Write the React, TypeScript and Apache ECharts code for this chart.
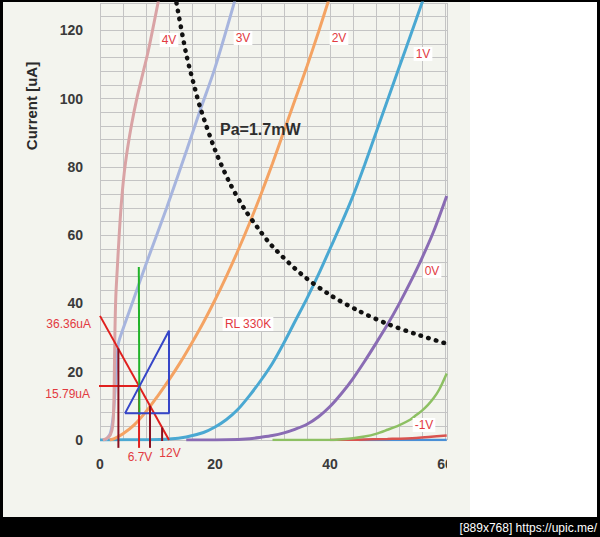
import { useEffect, useRef } from 'react';
import * as echarts from 'echarts';

// Tick labels
const xTickLabels = [0, 20, 40, 60];
const yTickLabels = [0, 20, 40, 60, 80, 100, 120];

// Plate curves [V, uA]
const curve4V = [[0.5, 0], [1.2, 0.5], [1.8, 1.5], [2.2, 4], [2.4, 10], [2.5, 20], [2.6, 32], [2.75, 42], [3.0, 50], [3.3, 59], [3.7, 69], [4.2, 78], [4.8, 85.5], [5.5, 92.5], [6.4, 100], [7.4, 107], [8.4, 114], [10.2, 129]];
const curve3V = [[1.0, 0], [1.8, 2], [2.3, 7], [2.6, 14], [2.9, 22], [3.2, 28.3], [4.0, 32.5], [5.8, 41], [8.0, 51.5], [11.6, 68], [15.1, 85], [17.4, 96.5], [20.0, 109], [23.5, 129]];
const curve2V = [[1.7, 0], [2.5, 0.4], [4.0, 1.8], [6.0, 4.5], [8.0, 8.3], [10.0, 12.8], [12.0, 17.6], [14.0, 22.8], [16.0, 28.5], [18.0, 34.5], [20.0, 41], [22.0, 48], [24.0, 55.5], [26.0, 63.5], [28.0, 72], [30.0, 81], [32.0, 90.5], [34.0, 100], [36.0, 109.5], [38.0, 119.5], [39.8, 129]];
const curve1V = [[0.0, 0], [8.0, 0.1], [12.0, 0.3], [15.0, 0.9], [18.0, 2.2], [20.0, 3.8], [22.0, 6], [24.0, 9], [26.0, 13], [28.0, 17.5], [30.0, 22.5], [32.0, 28.5], [34.0, 35], [36.0, 41.5], [38.0, 48.5], [40.0, 56], [42.0, 63.5], [44.0, 71.5], [46.0, 80.5], [48.0, 90], [50.0, 99.5], [52.0, 109], [54.0, 118.5], [56.2, 129]];
const curve0V = [[15.0, 0], [22.0, 0.1], [26.0, 0.4], [28.0, 0.8], [30.0, 1.3], [32.0, 2.1], [34.0, 3.2], [36.0, 4.6], [38.0, 6.8], [40.0, 9.8], [42.0, 13.6], [44.0, 18], [46.0, 23], [48.0, 28.3], [50.0, 33.8], [52.0, 39.8], [54.0, 46.3], [56.0, 53.3], [58.0, 61], [60.3, 71.5]];
const curveM1V = [[30.0, 0], [40.0, 0], [42.0, 0.2], [44.0, 0.5], [46.0, 1], [48.0, 1.8], [50.0, 3], [52.0, 4.3], [54.0, 6], [55.0, 7.3], [56.0, 8.6], [57.0, 10.2], [58.0, 12.2], [59.0, 14.8], [60.3, 19.5]];
const curveM2V = [[40.0, 0], [45.0, 0.1], [50.0, 0.3], [55.0, 0.6], [60.3, 1.3]];
const curveM3V = [[45.0, 0], [60.3, 0]];

// Anode dissipation limit Pa = 1.7 mW
const paLimit = [[13.3, 128], [15.0, 113], [16.5, 103], [17.5, 97], [20.0, 85], [22.5, 75.5], [25.0, 68], [27.5, 62], [30.0, 56.7], [35.0, 48.6], [40.0, 42.5], [45.0, 37.8], [50.0, 34], [55.0, 31], [60.3, 28.2]];

// Annotations
const loadLine = [[0, 36.36], [12, 0]];
const quiescentH = [[-0.7, 15.79], [6.79, 15.79]];
const quiescentV = [[6.79, 15.79], [6.79, -2.3]];
const greenLine = [[6.85, 7.3], [6.75, 50.7]];
const triangle = [[4.35, 7.8], [12.0, 7.8], [12.0, 32], [4.35, 7.8]];
const darkV1 = [[3.2, 26.8], [3.2, -2.3]];
const darkV2 = [[8.7, 10.0], [8.7, -2.3]];
const darkV3 = [[10.8, 3.64], [10.8, -0.3]];

const RED = '#e23a3f';
const BG = '#f3f4ee';
const FONT = '"Liberation Sans", Arial, sans-serif';

export default function App() {
  const ref = useRef<HTMLDivElement>(null);
  useEffect(() => {
    if (!ref.current) return;
    const chart = echarts.init(ref.current, null, { renderer: 'svg' });
    const curve = (name: string, data: number[][], color: string, width: number) => ({
      name, type: 'line', data, showSymbol: false, smooth: 0.3,
      lineStyle: { color, width }, silent: true, z: 3,
    });
    const ann = (name: string, data: number[][], color: string, width: number) => ({
      name, type: 'line', data, showSymbol: false, smooth: false, clip: false,
      lineStyle: { color, width }, silent: true, z: 6,
    });
    const label = (text: string, x: number, y: number, opts: any = {}) => ({
      type: 'text', x, y, z: 50,
      style: {
        text, fill: RED, font: `12px ${FONT}`, align: 'center', verticalAlign: 'middle',
        backgroundColor: '#ffffff', padding: [1, 2], ...opts,
      },
    });
    chart.setOption({
      animation: false,
      backgroundColor: 'transparent',
      grid: { left: 100, top: 3, width: 347, height: 437, containLabel: false },
      xAxis: {
        type: 'value', min: 0, max: 60.35, interval: 4,
        axisLine: { show: false }, axisTick: { show: false },
        splitLine: { show: true, lineStyle: { color: '#c4c4c4', width: 1 } },
        axisLabel: {
          formatter: (v: number) => (xTickLabels.includes(v) ? String(v) : ''),
          color: '#3a3a3a', fontWeight: 'bold', fontSize: 14, fontFamily: FONT, margin: 17,
        },
      },
      yAxis: {
        type: 'value', min: 0, max: 128, interval: 4,
        axisLine: { show: false }, axisTick: { show: false },
        splitLine: { show: true, lineStyle: { color: '#c4c4c4', width: 1 } },
        axisLabel: {
          formatter: (v: number) => (yTickLabels.includes(v) ? String(v) : ''),
          color: '#3a3a3a', fontWeight: 'bold', fontSize: 14, fontFamily: FONT, margin: 17,
        },
      },
      series: [
        curve('-3V', curveM3V, '#4a8fd6', 2.5),
        curve('-2V', curveM2V, '#d9534f', 2.5),
        curve('-1V', curveM1V, '#8dc063', 2.5),
        curve('0V', curve0V, '#8a6cb4', 3),
        curve('1V', curve1V, '#4aa8d2', 3),
        curve('2V', curve2V, '#f4a363', 3),
        curve('3V', curve3V, '#a7b5de', 3),
        curve('4V', curve4V, '#d9a3a5', 3),
        {
          name: 'Pa', type: 'line', data: paLimit, showSymbol: false, smooth: 0.3, silent: true, z: 5,
          lineStyle: { color: '#111', width: 4.5, type: [0.5, 7.5], cap: 'round' },
        },
        ann('load', loadLine, '#e0201e', 2),
        ann('qh', quiescentH, '#e0201e', 2),
        ann('qv', quiescentV, '#e0201e', 2),
        ann('green', greenLine, '#22b32a', 2),
        ann('tri', triangle, '#3646c8', 2),
        ann('d1', darkV1, '#8a1020', 2),
        ann('d2', darkV2, '#8a1020', 2),
        ann('d3', darkV3, '#8a1020', 2),
      ],
      graphic: [
        { type: 'rect', z: 40, shape: { x: 447, y: 445, width: 23, height: 40 }, style: { fill: BG } },
        {
          type: 'text', x: 31, y: 106, rotation: Math.PI / 2, z: 50,
          style: { text: 'Current [uA]', fill: '#2a2a2a', font: `bold 15px ${FONT}`, align: 'center', verticalAlign: 'middle' },
        },
        {
          type: 'text', x: 220, y: 129, z: 50,
          style: { text: 'Pa=1.7mW', fill: '#2e2e2e', font: `bold 16px ${FONT}`, align: 'left', verticalAlign: 'middle' },
        },
        label('4V', 169, 40),
        label('3V', 243, 38),
        label('2V', 339, 38),
        label('1V', 423, 54),
        label('0V', 432, 271),
        label('-1V', 424, 425),
        label('RL 330K', 248, 324),
        label('36.36uA', 93, 324, { align: 'right', backgroundColor: 'transparent' }),
        label('15.79uA', 92, 394, { align: 'right', backgroundColor: 'transparent' }),
        label('6.7V', 140, 457, { backgroundColor: 'transparent' }),
        label('12V', 170, 453, { backgroundColor: 'transparent' }),
        {
          type: 'text', x: 597, y: 528, z: 50,
          style: { text: '[889x768] https://upic.me/', fill: '#ffffff', font: `12px ${FONT}`, align: 'right', verticalAlign: 'middle' },
        },
      ],
    });
    return () => chart.dispose();
  }, []);
  return (
    <div style={{ position: 'fixed', left: 0, top: 0, width: 600, height: 537, background: '#000' }}>
      <div style={{ position: 'absolute', left: 3, top: 2, width: 467, height: 515, background: BG }} />
      <div style={{ position: 'absolute', left: 470, top: 2, width: 127, height: 515, background: '#fff' }} />
      <div ref={ref} style={{ position: 'absolute', left: 0, top: 0, width: 600, height: 537 }} />
    </div>
  );
}
